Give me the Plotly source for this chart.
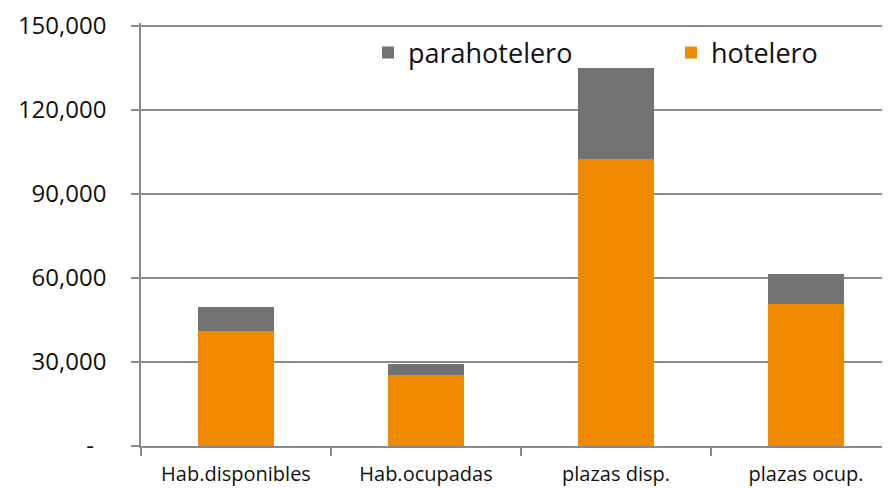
import plotly.graph_objects as go

categories = ["Hab.disponibles", "Hab.ocupadas", "plazas disp.", "plazas ocup."]
hotelero = [41000, 25400, 102500, 50600]
parahotelero = [8500, 3900, 32500, 10800]
y_tickvals = [0, 30000, 60000, 90000, 120000, 150000]
y_ticktext = ["-\u00a0\u00a0", "30,000", "60,000", "90,000", "120,000", "150,000"]

ORANGE = "#F28A00"
GREY = "#737373"
AX = "#8a8a8a"

fig = go.Figure()
fig.add_trace(go.Bar(name="hotelero", x=categories, y=hotelero, legend="legend2", showlegend=True,
                     marker=dict(color=ORANGE, line=dict(width=0)), width=0.4))
fig.add_trace(go.Bar(name="parahotelero", x=categories, y=parahotelero, legend="legend", showlegend=True,
                     marker=dict(color=GREY, line=dict(width=0)), width=0.4))

# top gridline (plotly drops the gridline at the edge of the range)
fig.add_shape(type="line", xref="paper", x0=0, x1=1, yref="y",
              y0=y_tickvals[-1], y1=y_tickvals[-1],
              line=dict(color=AX, width=1.5), layer="below")

leg_common = dict(orientation="h", xanchor="left", yanchor="middle",
                  font=dict(size=27), bgcolor="rgba(0,0,0,0)")
# page body has an 8px margin, so the figure is drawn at (8, 8)
fig.update_layout(
    barmode="stack",
    showlegend=True,
    width=882, height=480,
    margin=dict(l=133, r=0, t=15, b=42),
    paper_bgcolor="white", plot_bgcolor="white",
    font=dict(family="Open Sans", color="#111111"),
    legend=dict(x=(368 - 141) / 749, y=(446 - 53) / 423, **leg_common),
    legend2=dict(x=(671 - 141) / 749, y=(446 - 53) / 423, **leg_common),
    xaxis=dict(range=[-0.5, 3.442], tickson="boundaries", ticks="outside", ticklen=8,
               tickcolor=AX, tickwidth=1.5, showline=True, linecolor=AX, linewidth=1.5,
               showgrid=False, tickfont=dict(size=20), automargin=False,
               ticklabelstandoff=9),
    yaxis=dict(range=[0, 151000], tickmode="array", tickvals=y_tickvals, ticktext=y_ticktext,
               ticks="outside", ticklen=8, tickcolor=AX, tickwidth=1.5,
               showline=True, linecolor=AX, linewidth=1.5,
               showgrid=True, gridcolor=AX, gridwidth=1.5, zeroline=False,
               tickfont=dict(size=24), automargin=False, ticklabeloverflow="allow",
               ticklabelstandoff=20),
)
fig.write_html("out.html")
